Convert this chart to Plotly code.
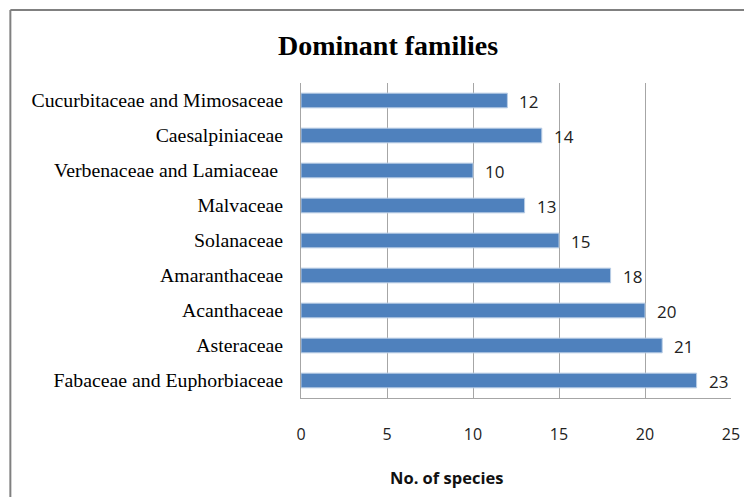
import plotly.graph_objects as go

families = [
    "Cucurbitaceae and Mimosaceae",
    "Caesalpiniaceae",
    "Verbenaceae and Lamiaceae ",
    "Malvaceae",
    "Solanaceae",
    "Amaranthaceae",
    "Acanthaceae",
    "Asteraceae",
    "Fabaceae and Euphorbiaceae",
]
species = [12, 14, 10, 13, 15, 18, 20, 21, 23]
x_ticks = [0, 5, 10, 15, 20, 25]

# page has an 8px body margin; figure coords = screen coords - 8
W, H = 744, 489
L, R, T, B = 293, 725, 75, 390
pw, ph = R - L, B - T

fig = go.Figure()
fig.add_trace(go.Bar(
    x=species, y=families, orientation="h",
    marker=dict(color="#4F81BD", line=dict(color="#B9CDE5", width=1)),
    hoverinfo="x+y",
))

for f, v in zip(families, species):
    fig.add_annotation(x=v, y=f, text=str(v), showarrow=False,
                       xanchor="left", xshift=10, yshift=-1,
                       font=dict(family="Open Sans", size=17, color="#222"))

fig.add_annotation(xref="paper", yref="paper", x=(439 - L) / pw, y=-(469 - B) / ph,
                   text="<b>No. of species</b>", showarrow=False,
                   xanchor="center", yanchor="middle",
                   font=dict(family="Open Sans", size=16.5, color="#111"))

# outer chart frame (left and top edges visible in the reference)
bx = (1 - L) / pw
by = 1 + (T - 2) / ph
fig.add_shape(type="line", xref="paper", yref="paper", x0=bx, x1=1.2, y0=by, y1=by,
              line=dict(color="#808080", width=2), layer="above")
fig.add_shape(type="line", xref="paper", yref="paper", x0=bx, x1=bx, y0=-0.5, y1=by,
              line=dict(color="#808080", width=2), layer="above")

fig.update_layout(
    width=W, height=H,
    margin=dict(l=L, r=W - R, t=T, b=H - B),
    paper_bgcolor="white", plot_bgcolor="white",
    bargap=0.58,
    showlegend=False,
    title=dict(text="<b>Dominant families</b>", x=380 / W, xanchor="center",
               y=1 - 37 / H, yanchor="middle",
               font=dict(family="Liberation Serif", size=28, color="#000")),
    xaxis=dict(range=[0, 25], tickvals=x_ticks, showgrid=True, gridcolor="#A6A6A6", gridwidth=1,
               showline=True, linecolor="#A6A6A6", linewidth=1, zeroline=False,
               ticks="", ticklabelstandoff=22,
               tickfont=dict(family="Open Sans", size=16, color="#222")),
    yaxis=dict(autorange="reversed", showline=True, linecolor="#A6A6A6", linewidth=1,
               showgrid=False, ticks="", ticklabelstandoff=13,
               tickfont=dict(family="Liberation Serif", size=19.8, color="#000")),
)

fig.write_html("out.html")
